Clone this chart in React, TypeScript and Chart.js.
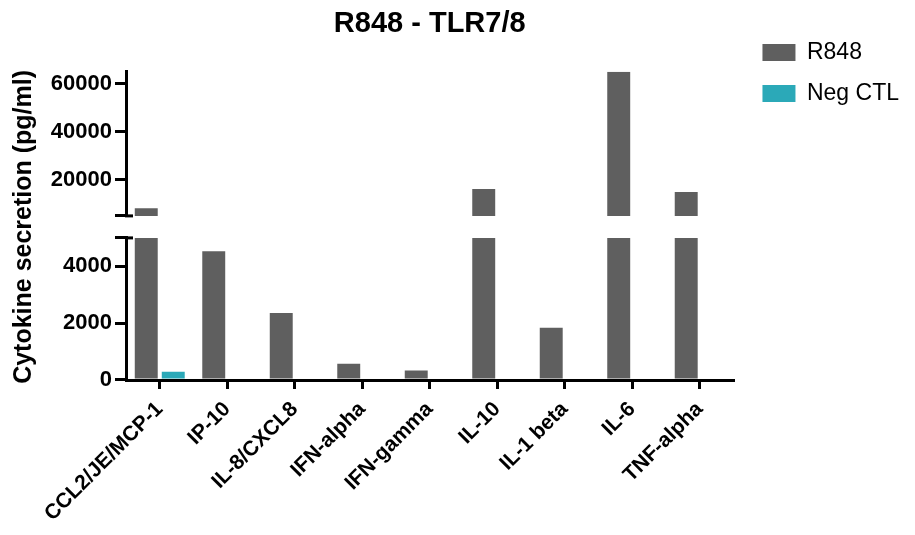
import React, { useEffect, useRef } from "react";
import { Chart, registerables } from "chart.js";

Chart.register(...registerables);

const categories = [
  "CCL2/JE/MCP-1",
  "IP-10",
  "IL-8/CXCL8",
  "IFN-alpha",
  "IFN-gamma",
  "IL-10",
  "IL-1 beta",
  "IL-6",
  "TNF-alpha",
];
const r848Values = [8200, 4530, 2360, 570, 330, 16250, 1840, 65000, 15000];
const negCtlValues = [290, 0, 0, 0, 0, 0, 0, 0, 0];

const BREAK_VALUE = 5000;
const TOP_VALUE = 65000;
const upperTicks = [5000, 20000, 40000, 60000];
const lowerTicks = [0, 2000, 4000, 5000];

const GRAY = "#5f5f5f";
const TEAL = "#2ba9b8";
const FONT = "'Liberation Sans', Arial, Helvetica, sans-serif";

const lowerPart = (vals: number[]) => vals.map((v) => Math.min(v, BREAK_VALUE));
const upperPart = (vals: number[]) =>
  vals.map((v) => (v > BREAK_VALUE ? [BREAK_VALUE, v] : null));

const breakCaps = {
  id: "breakCaps",
  afterDraw(chart: any) {
    const { ctx } = chart;
    const hi = chart.scales.yHigh;
    const lo = chart.scales.yLow;
    ctx.save();
    ctx.strokeStyle = "#000";
    ctx.lineWidth = 3;
    const cap = 7;
    [
      [hi, hi.getPixelForValue(BREAK_VALUE)],
      [lo, lo.getPixelForValue(BREAK_VALUE)],
    ].forEach(([s, y]: any) => {
      ctx.beginPath();
      ctx.moveTo(s.right - 1, y);
      ctx.lineTo(s.right + cap, y);
      ctx.stroke();
    });
    ctx.restore();
  },
};

export default function App() {
  const ref = useRef<HTMLCanvasElement | null>(null);

  useEffect(() => {
    if (!ref.current) return;
    Chart.defaults.font.family = FONT;
    Chart.defaults.color = "#000";

    const yCommon = {
      type: "linear",
      position: "left",
      stack: "y",
      border: { display: true, width: 3, color: "#000" },
      grid: {
        display: true,
        drawOnChartArea: false,
        drawTicks: true,
        tickLength: 11,
        lineWidth: 3,
        color: "#000",
      },
      ticks: {
        font: { size: 22, weight: "bold" },
        color: "#000",
        padding: 3,
        callback: (v: any) => (v === BREAK_VALUE ? "" : String(v)),
      },
    };

    const chart = new Chart(ref.current, {
      type: "bar",
      data: {
        labels: categories,
        datasets: [
          {
            label: "R848",
            data: lowerPart(r848Values),
            backgroundColor: GRAY,
            yAxisID: "yLow",
            stack: "r848",
          },
          {
            label: "Neg CTL",
            data: lowerPart(negCtlValues),
            backgroundColor: TEAL,
            yAxisID: "yLow",
            stack: "neg",
          },
          {
            label: "R848 (upper)",
            data: upperPart(r848Values) as any,
            backgroundColor: GRAY,
            yAxisID: "yHigh",
            stack: "r848",
          },
          {
            label: "Neg CTL (upper)",
            data: upperPart(negCtlValues) as any,
            backgroundColor: TEAL,
            yAxisID: "yHigh",
            stack: "neg",
          },
        ],
      },
      options: {
        animation: false,
        responsive: true,
        maintainAspectRatio: false,
        categoryPercentage: 0.8,
        barPercentage: 0.85,
        layout: { padding: { left: 0, right: 6, top: 0, bottom: 0 } },
        plugins: {
          tooltip: { enabled: false },
          title: {
            display: true,
            text: "R848 - TLR7/8",
            fullSize: false,
            color: "#000",
            font: { size: 29, weight: "bold" },
            padding: { top: 7, bottom: 30 },
          },
          legend: {
            display: true,
            position: "right",
            align: "start",
            maxWidth: 220,
            title: { display: true, text: "", padding: 0, font: { size: 23, lineHeight: 1 } },
            labels: {
              boxWidth: 33,
              boxHeight: 17,
              padding: 18,
              color: "#000",
              font: { size: 23 },
              filter: (item: any) => item.datasetIndex < 2,
            },
          },
        },
        scales: {
          x: {
            type: "category",
            offset: true,
            border: { display: true, width: 3, color: "#000" },
            grid: {
              display: true,
              offset: false,
              drawOnChartArea: false,
              drawTicks: true,
              tickLength: 9,
              lineWidth: 3,
              color: "#000",
            },
            ticks: {
              autoSkip: false,
              maxRotation: 45,
              minRotation: 45,
              padding: 8,
              color: "#000",
              font: { size: 21, weight: "bold" },
            },
            afterFit: (s: any) => {
              s.height = 155;
            },
          },
          yHigh: {
            ...yCommon,
            min: BREAK_VALUE,
            max: TOP_VALUE,
            beginAtZero: false,
            stackWeight: 144,
            weight: 3,
            afterBuildTicks: (s: any) => {
              s.ticks = upperTicks.map((v) => ({ value: v }));
            },
          },
          yGap: {
            type: "linear",
            position: "left",
            stack: "y",
            stackWeight: 22,
            weight: 2,
            display: true,
            min: 0,
            max: 1,
            border: { display: false },
            grid: { display: false },
            ticks: { display: false },
            title: {
              display: true,
              text: "Cytokine secretion (pg/ml)",
              color: "#000",
              font: { size: 25, weight: "bold" },
              padding: { top: 9, bottom: 0 },
            },
            afterFit: (s: any) => {
              s.width = 126;
            },
          },
          yLow: {
            ...yCommon,
            min: 0,
            max: BREAK_VALUE,
            stackWeight: 142,
            weight: 1,
            afterBuildTicks: (s: any) => {
              s.ticks = lowerTicks.map((v) => ({ value: v }));
            },
          },
          padRight: {
            type: "linear",
            position: "right",
            display: true,
            border: { display: false },
            grid: { display: false },
            ticks: { display: false },
            afterFit: (s: any) => {
              s.width = 11;
            },
          },
        },
      } as any,
      plugins: [breakCaps],
    });
    return () => chart.destroy();
  }, []);

  return (
    <div
      style={{
        position: "fixed",
        left: 0,
        top: 0,
        width: 915,
        height: 535,
        background: "#fff",
      }}
    >
      <canvas ref={ref} />
    </div>
  );
}
